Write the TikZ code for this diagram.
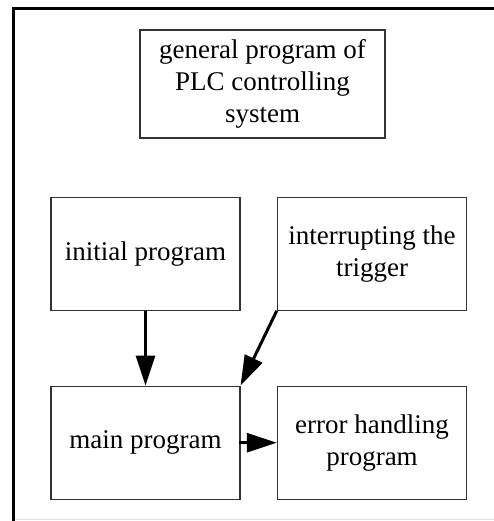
\documentclass[tikz,border=0pt]{standalone}
\usepackage{fontspec}
\setmainfont{Liberation Serif}
\usetikzlibrary{arrows.meta}
\begin{document}
\begin{tikzpicture}[x=1pt,y=-1pt,
  blockbox/.style={draw=black!80, line width=1.1pt, inner sep=0pt, align=center,
    font=\fontsize{27}{32}\selectfont},
  flow/.style={line width=3pt, -{Triangle[length=30pt,width=19pt]}},
  frameline/.style={line width=3pt, line cap=butt}]
  \useasboundingbox (0,0) rectangle (494,521);
  % outer frame
  \coordinate (ftl) at (13.5,9);
  \coordinate (ftr) at (494,9);
  \coordinate (fbl) at (13.5,521);
  \draw[frameline] (ftr) -- (12,9) (ftl) -- (fbl);
  \coordinate (bl) at (15,519.5);
  \coordinate (br) at (494,519.5);
  \draw[black!12, line width=0.8pt] (bl) -- (br);
  % blocks
  \node[blockbox, minimum width=245pt, minimum height=108pt] (title) at (262.5,84)
    {general program of\\PLC controlling\\system};
  \node[blockbox, minimum width=189pt, minimum height=113pt] (init) at (145.5,253.7)
    {initial program};
  \node[blockbox, minimum width=189.4pt, minimum height=113pt] (intr) at (372,253.7)
    {interrupting the\\trigger};
  \node[blockbox, minimum width=189pt, minimum height=113.3pt] (main) at (145.5,442.7)
    {main program};
  \node[blockbox, minimum width=189.4pt, minimum height=113.3pt] (err) at (372,442.7)
    {error handling\\program};
  % connectors
  \draw[flow] (init.south) -- (main.north);
  \draw[flow] (intr.south west) -- (main.north east);
  \draw[flow] ([xshift=-2pt]main.east) -- (err.west);
\end{tikzpicture}
\end{document}
